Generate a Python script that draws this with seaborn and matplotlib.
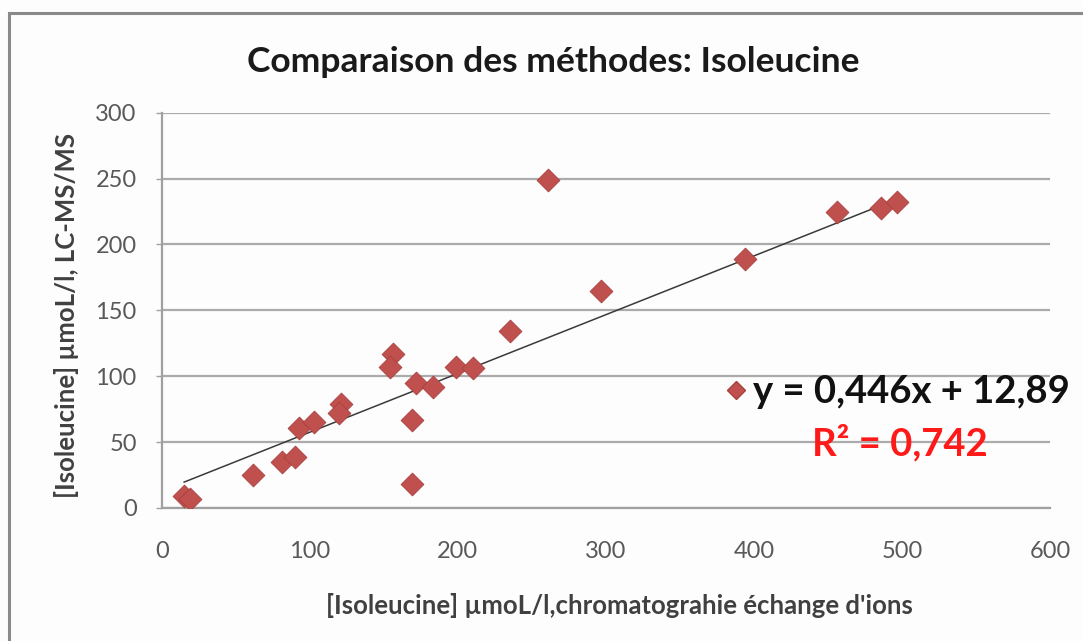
import matplotlib
matplotlib.use("Agg")
import matplotlib.pyplot as plt
from matplotlib.lines import Line2D
from matplotlib.patches import Rectangle
import numpy as np
import pandas as pd
import seaborn as sns

# Isoleucine concentrations (µmol/L): ion-exchange chromatography vs LC-MS/MS
iec_values = [15, 19, 62, 81, 90, 93, 103, 121, 120, 156, 154, 172, 183, 169, 169,
              199, 210, 235, 261, 297, 394, 456, 486, 497]
lcms_values = [9, 7, 25, 35, 39, 61, 65, 79, 72, 117, 107, 95, 92, 67, 18,
               107, 106, 134, 249, 165, 189, 225, 228, 232]

# Linear trend reported for the series
slope = 0.446
intercept = 12.89
r_squared = 0.742

x_ticks = [0, 100, 200, 300, 400, 500, 600]
y_ticks = [0, 50, 100, 150, 200, 250, 300]

title = "Comparaison des méthodes: Isoleucine"
x_label = "[Isoleucine] µmoL/l,chromatograhie échange d'ions"
y_label = "[Isoleucine] µmoL/l, LC-MS/MS"

df = pd.DataFrame({"iec": iec_values, "lcms": lcms_values})

sns.set_theme(style="white")
plt.rcParams["font.family"] = ["Lato", "DejaVu Sans"]

fig = plt.figure(figsize=(10.83, 6.41), dpi=100, facecolor="#FDFDFD")
ax = fig.add_axes([0.1493, 0.2075, 0.8202, 0.6167])
ax.set_facecolor("#FDFDFD")

# chart frame
fig.patches.append(Rectangle((9 / 1083, -0.05), 1.2, 1 - 13 / 641 + 0.05,
                             transform=fig.transFigure, fill=False,
                             edgecolor="#8A8A8A", linewidth=2.2, zorder=0))

marker_color = "#C0504D"
edge_color = "#A8403D"

# trend line over the span of the data
xs = np.array([min(iec_values), max(iec_values)])
trend = pd.DataFrame({"x": xs, "y": slope * xs + intercept})
sns.lineplot(data=trend, x="x", y="y", ax=ax, color="#3A3A3A", linewidth=1.1, zorder=2)

sns.scatterplot(data=df, x="iec", y="lcms", ax=ax, marker="D", s=135,
                color=marker_color, edgecolor=edge_color, linewidth=0.6, zorder=3)

ax.set_xlim(0, 600)
ax.set_ylim(0, 300)
ax.set_xticks(x_ticks)
ax.set_yticks(y_ticks)
ax.set_xticklabels([str(t) for t in x_ticks])
ax.set_yticklabels([str(t) for t in y_ticks])
ax.tick_params(axis="x", length=0, pad=24, labelsize=17, labelcolor="#595959")
ax.tick_params(axis="y", length=4, width=1, color="#A0A0A0", pad=14, labelsize=17,
               labelcolor="#595959", left=True)

ax.yaxis.grid(True, color="#ABABAB", linewidth=1.6)
ax.xaxis.grid(False)
for side in ["top", "right"]:
    ax.spines[side].set_visible(False)
for side in ["left", "bottom"]:
    ax.spines[side].set_color("#A0A0A0")
    ax.spines[side].set_linewidth(1.6)

ax.set_xlabel(x_label, fontsize=18.5, fontweight="bold", color="#404040")
ax.set_ylabel(y_label, fontsize=18.5, fontweight="bold", color="#404040")
ax.xaxis.set_label_coords(0.515, -0.215)
ax.yaxis.set_label_coords(-0.093, 0.486)

fig.text(0.511, 0.903, title, ha="center", va="center", fontsize=25.5,
         fontweight="bold", color="#1A1A1A")

# equation legend entry and R² label
handle = Line2D([], [], linestyle="none", marker="D", markersize=9,
                markerfacecolor=marker_color, markeredgecolor=edge_color)
eq_text = "y = " + f"{slope:.3f}".replace(".", ",") + "x + " + f"{intercept:.2f}".replace(".", ",")
leg = ax.legend(handles=[handle], labels=[eq_text], loc="center left",
                bbox_to_anchor=(0.612, 0.293), frameon=False,
                handletextpad=0.05, handlelength=0.8, borderaxespad=0,
                prop={"weight": "bold", "size": 27.5})
for t in leg.get_texts():
    t.set_color("#111111")

r2_text = "R² = " + f"{r_squared:.3f}".replace(".", ",")
ax.text(0.831, 0.164, r2_text, transform=ax.transAxes, ha="center", va="center",
        fontsize=27.5, fontweight="bold", color="#FF1A1A")

fig.savefig("out.png", dpi=100, facecolor=fig.get_facecolor())
